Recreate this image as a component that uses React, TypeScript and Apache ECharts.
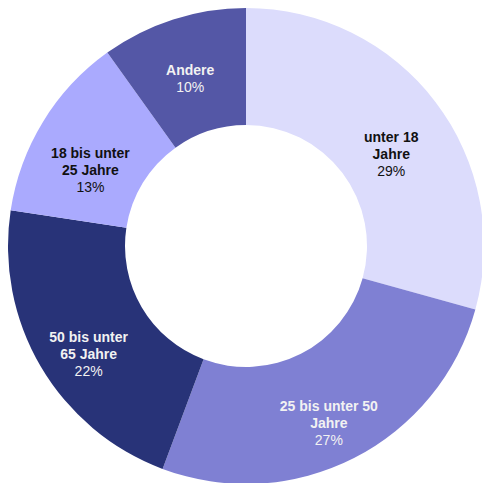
import React, { useEffect, useRef } from "react";
import * as echarts from "echarts";

const categories = ["unter 18\nJahre", "25 bis unter 50\nJahre", "50 bis unter\n65 Jahre", "18 bis unter\n25 Jahre", "Andere"];
const values = [29.3, 26.4, 21.7, 12.7, 9.9];
const percentLabels = ["29%", "27%", "22%", "13%", "10%"];

const colors = ["#dcdcfc", "#7f80d3", "#283378", "#aaaafe", "#5457a6"];
const textColors = ["#111111", "#f2f2f2", "#f2f2f2", "#111111", "#f2f2f2"];
const labelShift = [18, 14, 16, 19, 6];

export default function App() {
  const ref = useRef<HTMLDivElement>(null);
  useEffect(() => {
    if (!ref.current) return;
    document.body.style.margin = "0";
    const chart = echarts.init(ref.current, null, { renderer: "svg" });
    chart.setOption({
      animation: false,
      series: [
        {
          type: "pie",
          center: [246, 246],
          radius: [121, 238],
          startAngle: 90,
          clockwise: true,
          avoidLabelOverlap: false,
          itemStyle: { borderWidth: 0 },
          emphasis: { disabled: true },
          data: categories.map((name, i) => ({
            name,
            value: values[i],
            itemStyle: { color: colors[i] },
            label: {
              offset: [0, labelShift[i]],
              formatter: () => `{b|${name}}\n{p|${percentLabels[i]}}`,
              rich: {
                b: { fontFamily: "Liberation Sans, Arial", fontWeight: "bold", fontSize: 14, color: textColors[i], lineHeight: 17, align: "center" },
                p: { fontFamily: "Liberation Sans, Arial", fontSize: 14, color: textColors[i], lineHeight: 17, align: "center" },
              },
            },
          })),
          label: { show: true, position: "inside" },
          labelLine: { show: false },
        },
      ],
    });
    return () => chart.dispose();
  }, []);
  return <div ref={ref} style={{ width: 482, height: 483 }} />;
}
